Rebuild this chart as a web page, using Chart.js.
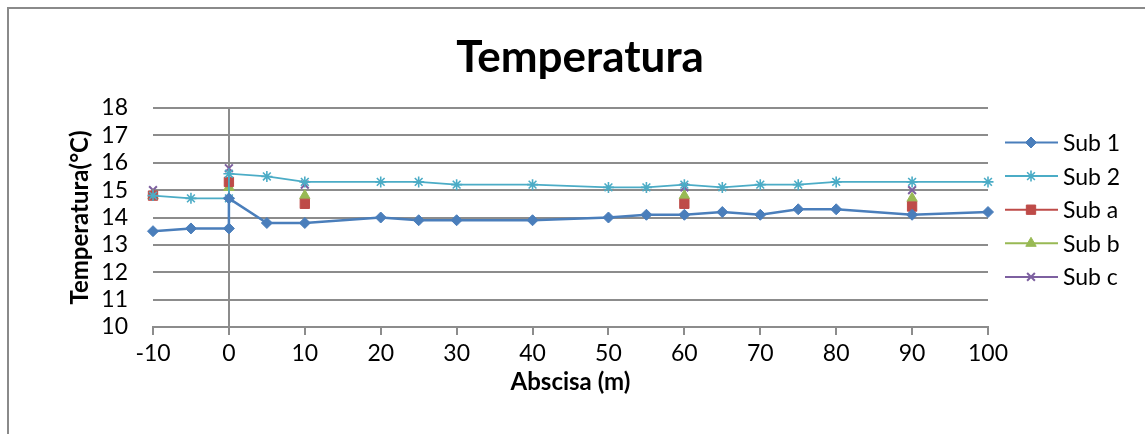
<!DOCTYPE html>
<html>
<head>
<meta charset="utf-8">
<script src="https://cdn.jsdelivr.net/npm/chart.js@4/dist/chart.umd.min.js"></script>
<style>
  html, body { margin: 0; padding: 0; background: #fff; overflow: hidden; }
  #wrap { position: relative; width: 1145px; height: 434px; }
  #frame {
    position: absolute; left: 7px; top: 7px; right: -20px; bottom: -20px;
    border: 2px solid #8a8a8a; pointer-events: none;
  }
</style>
</head>
<body>
<div id="wrap">
  <canvas id="tempChart" width="1145" height="434"></canvas>
  <div id="frame"></div>
</div>
<script>
// abscissa positions (m)
const mainX = [-10, -5, 0, 0, 5, 10, 20, 25, 30, 40, 50, 55, 60, 65, 70, 75, 80, 90, 100];
const sampleX = [-10, 0, 10, 60, 90];

// temperatures (°C)
const sub1 = [13.5, 13.6, 13.6, 14.7, 13.8, 13.8, 14.0, 13.9, 13.9, 13.9, 14.0, 14.1, 14.1, 14.2, 14.1, 14.3, 14.3, 14.1, 14.2];
const sub2 = [14.8, 14.7, 14.7, 15.6, 15.5, 15.3, 15.3, 15.3, 15.2, 15.2, 15.1, 15.1, 15.2, 15.1, 15.2, 15.2, 15.3, 15.3, 15.3];
const subA = [14.8, 15.3, 14.5, 14.5, 14.4];
const subB = [14.8, 15.1, 14.8, 14.8, 14.7];
const subC = [15.0, 15.8, 15.2, 15.1, 15.0];

const yTicks = [10, 11, 12, 13, 14, 15, 16, 17, 18];
const xTicks = [-10, 0, 10, 20, 30, 40, 50, 60, 70, 80, 90, 100];

const pairs = (xs, ys) => xs.map((x, i) => ({ x: x, y: ys[i] }));

const FONT = 'Lato, "Open Sans", sans-serif';
const GRID = '#8c8c8c';

// legend drawn as line + marker, like the spreadsheet style
const lineLegend = {
  id: 'lineLegend',
  afterDraw(chart) {
    const ctx = chart.ctx;
    const drawPoint = Chart.helpers && Chart.helpers.drawPoint;
    ctx.save();
    chart.data.datasets.forEach((ds, i) => {
      const y = 142.5 + i * 33.6;
      ctx.strokeStyle = ds.borderColor;
      ctx.lineWidth = 2;
      ctx.beginPath();
      ctx.moveTo(1005, y);
      ctx.lineTo(1058, y);
      ctx.stroke();
      if (drawPoint) {
        ctx.fillStyle = ds.pointBackgroundColor;
        ctx.strokeStyle = ds.pointBorderColor;
        ctx.lineWidth = ds.pointBorderWidth;
        drawPoint(ctx, { pointStyle: ds.pointStyle, radius: ds.pointRadius, rotation: 0, borderWidth: ds.pointBorderWidth }, 1031, y);
      }
      ctx.fillStyle = '#000';
      ctx.font = '23px ' + FONT;
      ctx.textBaseline = 'middle';
      ctx.textAlign = 'left';
      ctx.fillText(ds.label, 1063, y + 1);
    });
    ctx.restore();
  }
};

new Chart(document.getElementById('tempChart'), {
  type: 'scatter',
  data: {
    datasets: [
      {
        label: 'Sub 1',
        data: pairs(mainX, sub1),
        showLine: true,
        borderColor: '#4a7ebb',
        borderWidth: 2.5,
        pointStyle: 'rectRot',
        pointRadius: 5.5,
        pointBackgroundColor: '#4a7ebb',
        pointBorderColor: '#4a7ebb',
        pointBorderWidth: 1,
        clip: false
      },
      {
        label: 'Sub 2',
        data: pairs(mainX, sub2),
        showLine: true,
        borderColor: '#4bacc6',
        borderWidth: 1.8,
        pointStyle: 'star',
        pointRadius: 5.5,
        pointBackgroundColor: '#4bacc6',
        pointBorderColor: '#4bacc6',
        pointBorderWidth: 1.6,
        clip: false
      },
      {
        label: 'Sub a',
        data: pairs(sampleX, subA),
        showLine: false,
        borderColor: '#be4b48',
        pointStyle: 'rect',
        pointRadius: 6.6,
        pointBackgroundColor: '#be4b48',
        pointBorderColor: '#be4b48',
        pointBorderWidth: 1,
        clip: false
      },
      {
        label: 'Sub b',
        data: pairs(sampleX, subB),
        showLine: false,
        borderColor: '#98b954',
        pointStyle: 'triangle',
        pointRadius: 6,
        pointBackgroundColor: '#98b954',
        pointBorderColor: '#98b954',
        pointBorderWidth: 1,
        clip: false
      },
      {
        label: 'Sub c',
        data: pairs(sampleX, subC),
        showLine: false,
        borderColor: '#7d60a0',
        pointStyle: 'crossRot',
        pointRadius: 5.5,
        pointBackgroundColor: '#7d60a0',
        pointBorderColor: '#7d60a0',
        pointBorderWidth: 2,
        clip: false
      }
    ]
  },
  options: {
    responsive: false,
    animation: false,
    layout: { padding: { left: 15, right: 0, top: 0, bottom: 0 } },
    plugins: {
      legend: { display: false },
      tooltip: { enabled: false },
      title: {
        display: true,
        text: 'Temperatura',
        color: '#000',
        font: { family: FONT, size: 44, weight: 'bold' },
        padding: { top: 31, bottom: 24.2 }
      }
    },
    scales: {
      x: {
        type: 'linear',
        min: -10,
        max: 100,
        afterFit: (scale) => { scale.height = 107; },
        afterBuildTicks: (scale) => { scale.ticks = xTicks.map(v => ({ value: v })); },
        border: { display: true, color: GRID, width: 2 },
        grid: {
          color: (c) => (c.tick && c.tick.value === 0 ? GRID : 'rgba(0,0,0,0)'),
          tickColor: GRID,
          lineWidth: 2,
          tickLength: 8
        },
        ticks: { autoSkip: false, maxRotation: 0, color: '#000', font: { family: FONT, size: 23 }, padding: 5 },
        title: {
          display: true,
          text: 'Abscisa (m)',
          color: '#000',
          font: { family: FONT, size: 24, weight: 'bold' },
          padding: { top: 0, bottom: 37.6 }
        }
      },
      y: {
        min: 10,
        max: 18,
        afterFit: (scale) => { scale.width = 138; },
        afterBuildTicks: (scale) => { scale.ticks = yTicks.map(v => ({ value: v })); },
        border: { display: false },
        grid: { color: GRID, lineWidth: 2, drawTicks: false },
        ticks: { autoSkip: false, color: '#000', font: { family: FONT, size: 23 }, padding: 25 },
        title: {
          display: true,
          text: 'Temperatura(°C)',
          color: '#000',
          font: { family: FONT, size: 24, weight: 'bold' },
          padding: { top: 50.6, bottom: 0 }
        }
      },
      // empty right-hand axis that reserves room for the legend
      legendSpace: {
        type: 'linear',
        position: 'right',
        afterFit: (scale) => { scale.width = 157; },
        border: { display: false },
        grid: { display: false, drawOnChartArea: false },
        ticks: { display: false }
      }
    }
  },
  plugins: [lineLegend]
});
</script>
</body>
</html>
